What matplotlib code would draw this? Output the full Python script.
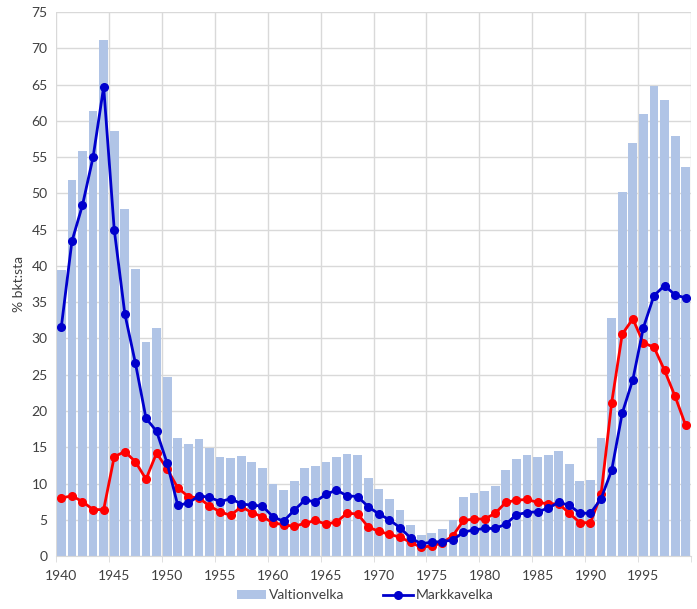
import numpy as np
import matplotlib
matplotlib.use("Agg")
import matplotlib.pyplot as plt
from matplotlib.ticker import FixedLocator

plt.rcParams['font.family'] = ['Lato', 'DejaVu Sans']

vuodet = list(range(1940, 2000))

# Valtionvelka, % bkt:sta (pylväät)
valtionvelka = [39.5, 51.8, 55.9, 61.4, 71.1, 58.6, 47.9, 39.6, 29.5, 31.4,
                24.7, 16.3, 15.5, 16.2, 14.9, 13.6, 13.5, 13.8, 13.0, 12.2,
                9.9, 9.1, 10.3, 12.2, 12.4, 12.9, 13.7, 14.1, 13.9, 10.8,
                9.2, 7.9, 6.4, 4.3, 2.9, 3.2, 3.7, 5.0, 8.1, 8.7,
                8.9, 9.7, 11.9, 13.4, 13.9, 13.6, 13.9, 14.5, 12.7, 10.3,
                10.5, 16.3, 32.8, 50.2, 57.0, 61.0, 64.8, 62.9, 57.9, 53.6]

# Markkavelka (sininen viiva)
markkavelka = [31.6, 43.4, 48.4, 55.0, 64.7, 45.0, 33.4, 26.6, 19.0, 17.2,
               12.8, 7.0, 7.3, 8.3, 8.1, 7.5, 7.9, 7.2, 7.0, 6.9,
               5.4, 4.8, 6.3, 7.7, 7.5, 8.5, 9.1, 8.3, 8.2, 6.8,
               5.8, 5.0, 3.9, 2.5, 1.7, 1.9, 2.0, 2.2, 3.3, 3.6,
               3.8, 3.8, 4.4, 5.7, 6.0, 6.1, 6.6, 7.4, 7.0, 5.9,
               5.9, 7.9, 11.8, 19.7, 24.3, 31.5, 35.9, 37.3, 36.0, 35.6]

# Valuuttavelka (punainen viiva)
valuuttavelka = [8.0, 8.3, 7.5, 6.4, 6.4, 13.7, 14.4, 13.0, 10.6, 14.2,
                 12.0, 9.4, 8.2, 8.0, 6.9, 6.1, 5.6, 6.8, 6.0, 5.4,
                 4.6, 4.3, 4.1, 4.5, 4.9, 4.4, 4.7, 5.9, 5.8, 4.0,
                 3.4, 3.0, 2.6, 1.9, 1.2, 1.4, 1.8, 2.8, 4.9, 5.1,
                 5.1, 5.9, 7.4, 7.7, 7.8, 7.4, 7.2, 7.2, 5.9, 4.6,
                 4.6, 8.5, 21.1, 30.6, 32.7, 29.4, 28.8, 25.6, 22.0, 18.0]

fig = plt.figure(figsize=(6.97, 6.09), dpi=100)
ax = fig.add_axes([0.0804, 0.087, 0.911, 0.893])

gridc = '#D9D9D9'
ax.bar(vuodet, valtionvelka, width=0.83, color='#B0C4E6', label='Valtionvelka', zorder=2)
ax.plot(vuodet, markkavelka, color='#0000CC', lw=2, marker='o', ms=5.5, label='Markkavelka', zorder=4)
ax.plot(vuodet, valuuttavelka, color='#FF0000', lw=2, marker='o', ms=5.5, label='Valuuttavelka', zorder=3)

ax.set_xlim(1939.5, 1999.5)
ax.set_ylim(0, 75)
ax.set_yticks(np.arange(0, 80, 5))
ax.xaxis.set_major_locator(FixedLocator(range(1940, 2000, 5)))
ax.xaxis.set_minor_locator(FixedLocator(np.arange(1939.5, 2000, 5)))
ax.grid(axis='y', color=gridc, lw=1, zorder=0)
ax.grid(axis='x', which='minor', color=gridc, lw=1, zorder=0)
ax.tick_params(axis='x', which='major', length=0, labelsize=10, colors='#404040', pad=10)
ax.tick_params(axis='x', which='minor', length=4, color=gridc)
ax.tick_params(axis='y', length=0, labelsize=10, colors='#404040', pad=6)
for s in ['top', 'right', 'left']:
    ax.spines[s].set_visible(False)
ax.spines['bottom'].set_color(gridc)

ax.set_ylabel('% bkt:sta', fontsize=10, color='#404040', labelpad=5)

h, l = ax.get_legend_handles_labels()
fig.legend([h[2], h[0]], [l[2], l[0]], loc='lower center', bbox_to_anchor=(0.524, -0.008),
           ncol=2, frameon=False, fontsize=10, handlelength=2.1, columnspacing=2.8,
           labelcolor='#404040', handletextpad=0.25)

fig.savefig('out.png', dpi=100)
